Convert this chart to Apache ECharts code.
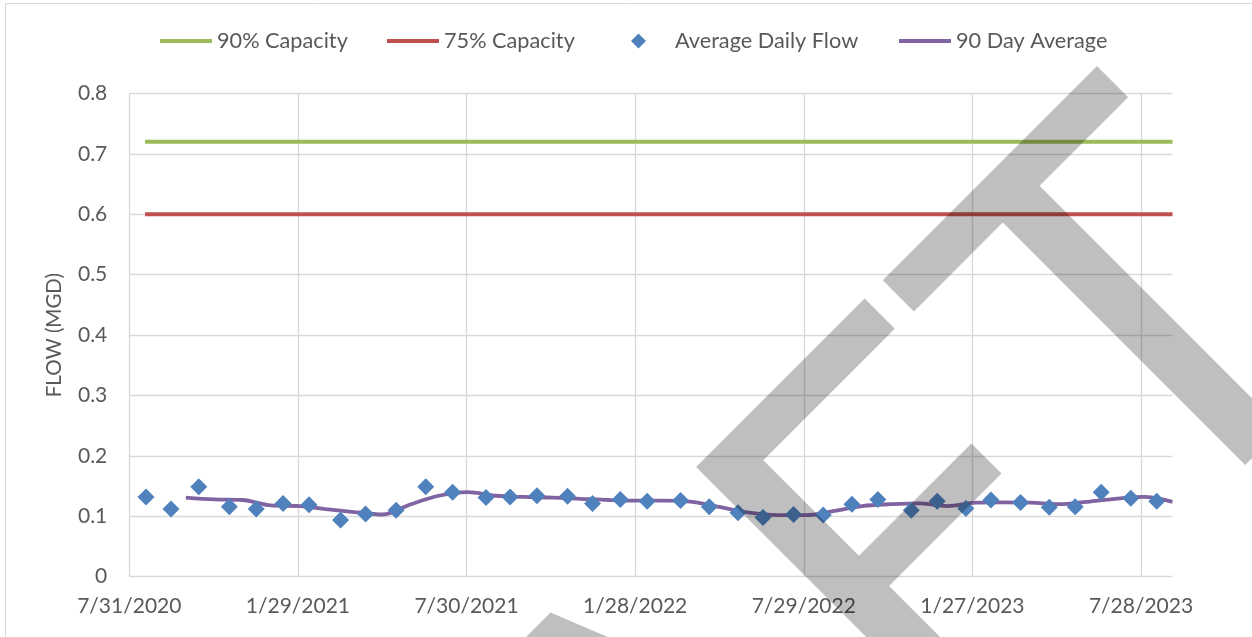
<!DOCTYPE html>
<html>
<head>
<meta charset="utf-8">
<script src="https://cdn.jsdelivr.net/npm/echarts@6/dist/echarts.min.js"></script>
<style>
html,body{margin:0;padding:0;background:#fff;}
#chart{width:1252px;height:637px;}
</style>
</head>
<body>
<div id="chart"></div>
<script>
// ---- data ----
const flowDates = ['8/18/2020','9/14/2020','10/14/2020','11/16/2020','12/15/2020','1/13/2021','2/10/2021','3/16/2021','4/12/2021','5/15/2021','6/16/2021','7/15/2021','8/20/2021','9/15/2021','10/14/2021','11/16/2021','12/13/2021','1/12/2022','2/10/2022','3/18/2022','4/18/2022','5/19/2022','6/15/2022','7/18/2022','8/19/2022','9/19/2022','10/17/2022','11/22/2022','12/20/2022','1/20/2023','2/16/2023','3/20/2023','4/20/2023','5/18/2023','6/15/2023','7/17/2023','8/14/2023'];
const flowValues = [0.132,0.112,0.149,0.116,0.112,0.121,0.119,0.094,0.104,0.110,0.149,0.140,0.131,0.132,0.134,0.133,0.121,0.128,0.125,0.126,0.116,0.106,0.098,0.103,0.102,0.120,0.128,0.110,0.125,0.113,0.127,0.123,0.115,0.116,0.140,0.130,0.125];

const avgDates = ['9/30/2020','10/31/2020','11/30/2020','12/31/2020','1/31/2021','2/28/2021','3/31/2021','4/30/2021','5/31/2021','6/30/2021','7/31/2021','8/31/2021','9/30/2021','10/31/2021','11/30/2021','12/31/2021','1/31/2022','2/28/2022','3/31/2022','4/30/2022','5/31/2022','6/30/2022','7/31/2022','8/31/2022','9/30/2022','10/31/2022','11/30/2022','12/31/2022','1/31/2023','2/28/2023','3/31/2023','4/30/2023','5/31/2023','6/30/2023','7/31/2023','8/31/2023'];
const avgValues = [0.131,0.128,0.127,0.118,0.117,0.112,0.107,0.103,0.120,0.134,0.140,0.134,0.132,0.131,0.129,0.127,0.126,0.126,0.124,0.115,0.106,0.102,0.102,0.109,0.117,0.120,0.1215,0.117,0.1225,0.123,0.1225,0.120,0.124,0.129,0.132,0.124];

const capDates = ['8/17/2020','8/31/2023'];
const cap90Values = [0.72,0.72];
const cap75Values = [0.60,0.60];

const axisStartDate = '7/31/2020';
const axisEndDate = '8/31/2023';
const tickDays = 182;
const yTicks = [0,0.1,0.2,0.3,0.4,0.5,0.6,0.7,0.8];

const seriesNames = ['90% Capacity','75% Capacity','Average Daily Flow','90 Day Average'];
const yAxisTitle = 'FLOW (MGD)';
const watermarkText = 'DRAFT';

// ---- helpers ----
function toUTC(s){const p=s.split('/').map(Number);return Date.UTC(p[2],p[0]-1,p[1]);}
const base = toUTC(axisStartDate);
function dayOf(s){return Math.round((toUTC(s)-base)/86400000);}
function fmt(v){const d=new Date(base+v*86400000);return (d.getUTCMonth()+1)+'/'+d.getUTCDate()+'/'+d.getUTCFullYear();}
function pairs(ds,vs){return ds.map((d,i)=>[dayOf(d),vs[i]]);}

const FONT='Lato';
const TXT='#595959';
const GRID='#d9d9d9';

const chart = echarts.init(document.getElementById('chart'), null, {renderer:'canvas'});
const legendBase = {top:30, padding:0, orient:'horizontal', textStyle:{fontFamily:FONT,fontSize:21.7,color:TXT}, selectedMode:false, itemGap:0};

chart.setOption({
  animation:false,
  backgroundColor:'#ffffff',
  grid:{left:129.3,right:79.5,top:93.5,bottom:60.3,containLabel:false},
  legend:[
    Object.assign({},legendBase,{left:160,data:[{name:seriesNames[0],icon:'rect'}],itemWidth:52,itemHeight:4}),
    Object.assign({},legendBase,{left:387,data:[{name:seriesNames[1],icon:'rect'}],itemWidth:52,itemHeight:4}),
    Object.assign({},legendBase,{left:631,data:[{name:seriesNames[2],icon:'diamond'}],itemWidth:15,itemHeight:15,
      textStyle:{fontFamily:FONT,fontSize:21.7,color:TXT,padding:[0,0,0,24]}}),
    Object.assign({},legendBase,{left:899,data:[{name:seriesNames[3],icon:'rect'}],itemWidth:52,itemHeight:4})
  ],
  xAxis:{
    type:'value', min:0, max:dayOf(axisEndDate), interval:tickDays,
    axisLine:{show:false}, axisTick:{show:false},
    splitLine:{show:true,showMaxLine:false,lineStyle:{color:GRID,width:1.3}},
    axisLabel:{formatter:fmt,fontFamily:FONT,fontSize:21,color:TXT,margin:19,showMaxLabel:false}
  },
  yAxis:{
    type:'value', min:yTicks[0], max:yTicks[yTicks.length-1], interval:0.1,
    name:yAxisTitle, nameLocation:'middle', nameGap:64, nameRotate:90,
    nameTextStyle:{fontFamily:FONT,fontSize:20.5,color:TXT},
    axisLine:{show:false}, axisTick:{show:false},
    splitLine:{show:true,lineStyle:{color:GRID,width:1.3}},
    axisLabel:{fontFamily:FONT,fontSize:21,color:TXT,margin:22,formatter:v=>String(Math.round(v*10)/10)}
  },
  series:[
    {name:seriesNames[0],type:'line',data:pairs(capDates,cap90Values),showSymbol:false,symbol:'none',lineStyle:{color:'#9BBB59',width:4,cap:'butt'},itemStyle:{color:'#9BBB59'},z:2},
    {name:seriesNames[1],type:'line',data:pairs(capDates,cap75Values),showSymbol:false,symbol:'none',lineStyle:{color:'#C0504D',width:4,cap:'butt'},itemStyle:{color:'#C0504D'},z:2},
    {name:seriesNames[3],type:'line',data:pairs(avgDates,avgValues),showSymbol:false,symbol:'none',smooth:0.35,lineStyle:{color:'#8064A2',width:3.8},itemStyle:{color:'#8064A2'},z:2},
    {name:seriesNames[2],type:'scatter',data:pairs(flowDates,flowValues),symbol:'diamond',symbolSize:17,itemStyle:{color:'#4F81BD',opacity:1},z:3}
  ],
  graphic:{elements:[
    {type:'rect',silent:true,z:-10,shape:{x:5.5,y:3.5,width:1400,height:800},style:{fill:'none',stroke:GRID,lineWidth:1}},
    {type:'text',silent:true,z:100,x:1253,y:211,rotation:Math.PI/4,
     style:{text:watermarkText,font:'540px Lato',fill:'rgba(0,0,0,0.25)',align:'right',verticalAlign:'middle',textAlign:'right',textVerticalAlign:'middle'}}
  ]}
});
</script>
</body>
</html>
